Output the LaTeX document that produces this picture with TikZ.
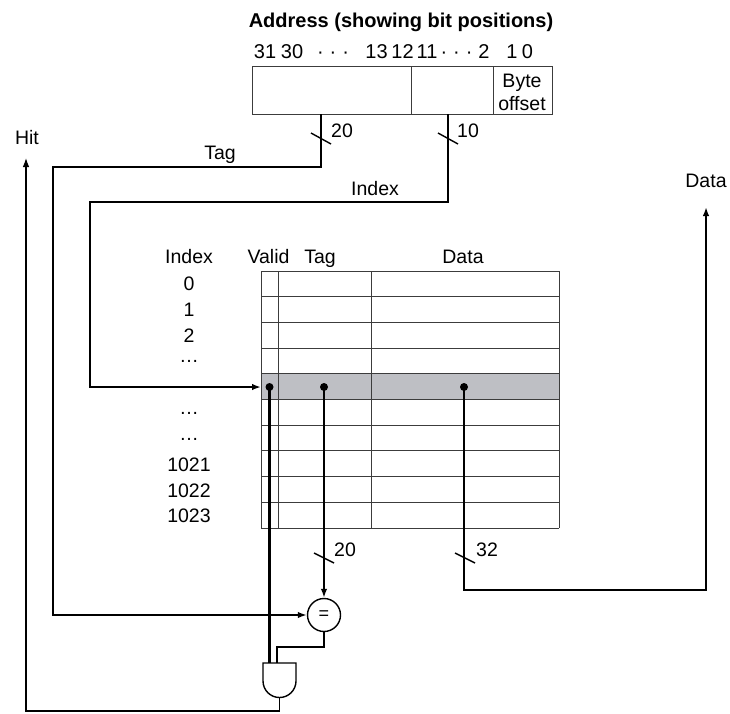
\documentclass[tikz,border=0pt]{standalone}
\usepackage{fontspec}
\setmainfont{Liberation Sans}
\usetikzlibrary{arrows.meta}
\definecolor{hilite}{RGB}{190,191,196}
\definecolor{gridc}{RGB}{60,60,60}
\tikzset{
  lbl/.style={font=\fontsize{19.5}{22}\selectfont, inner sep=0pt, anchor=base},
  bits/.style={font=\fontsize{20}{22}\selectfont, inner sep=0pt, anchor=base},
  ttl/.style={font=\fontsize{20}{22}\selectfont\bfseries, inner sep=0pt, anchor=base},
  wire/.style={line width=2.2pt, line join=miter},
  thinwire/.style={line width=1.1pt},
  grid/.style={line width=1pt, draw=gridc},
  tip/.style={-{Latex[length=9pt,width=6.5pt]}},
  dotnode/.style={circle, fill=black, inner sep=0pt, minimum size=8pt},
  slash/.style={line width=1.4pt},
  gate/.style={line width=1.4pt}
}
\newcommand{\bitdots}{·\hspace{6pt}·\hspace{6pt}·}
\begin{document}
\begin{tikzpicture}[x=1pt,y=-1pt]
\useasboundingbox (0,0) rectangle (730,713);

% ---------- address ----------
\node[ttl] (title) at (401,27) {Address (showing bit positions)};
\node[bits] (b31) at (265,58) {31};
\node[bits] (b30) at (292,58) {30};
\node[bits] (bd1) at (333,58) {\bitdots};
\node[bits] (b13) at (376.5,58) {13};
\node[bits] (b12) at (402.5,58) {12};
\node[bits] (b11) at (427,58) {11};
\node[bits] (bd2) at (456.5,58) {\bitdots};
\node[bits] (b2) at (484,58) {2};
\node[bits] (b1) at (512,58) {1};
\node[bits] (b0) at (527.5,58) {0};

\draw[grid] (252,66) rectangle (552,114);
\draw[grid] (411,66) -- (411,114);
\draw[grid] (493,66) -- (493,114);
\coordinate (addrTag) at (321,114);
\coordinate (addrIdx) at (448,114);
\node[lbl] (boff1) at (522,87) {Byte};
\node[lbl] (boff2) at (522,110) {offset};

% ---------- cache table ----------
\fill[hilite] (261,374) rectangle (559,399.5);
\foreach \i in {0,...,10} {
  \draw[grid] (261,{271+25.7*\i}) -- (559,{271+25.7*\i});
}
\draw[grid] (261,271) -- (261,528);
\draw[grid] (278,271) -- (278,528);
\draw[grid] (371,271) -- (371,528);
\draw[grid] (559,271) -- (559,528);

\node[lbl] (hIndex) at (189,263) {Index};
\node[lbl] (hValid) at (268.5,263) {Valid};
\node[lbl] (hTag) at (320,263) {Tag};
\node[lbl] (hData) at (463,263) {Data};

\node[lbl] (r0) at (189,290.5) {0};
\node[lbl] (r1) at (189,316.5) {1};
\node[lbl] (r2) at (189,342) {2};
\node[lbl] (r3) at (189,362) {…};
\node[lbl] (r5) at (189,414.5) {…};
\node[lbl] (r6) at (189,440) {…};
\node[lbl] (r7) at (189,471) {1021};
\node[lbl] (r8) at (189,497) {1022};
\node[lbl] (r9) at (189,522) {1023};

\coordinate (rowIn) at (261,387);
\node[dotnode] (vdot) at (269.5,387) {};
\node[dotnode] (tdot) at (324,387) {};
\node[dotnode] (ddot) at (464,387) {};

% ---------- comparator ----------
\node[circle, draw, line width=1.4pt, minimum size=33pt, inner sep=0pt, font=\fontsize{18}{20}\selectfont] (eq) at (324,615) {=};
\coordinate (gIn1) at (269.5,663);
\coordinate (gIn2) at (277,663);
\coordinate (gOut) at (279.5,697.5);

% ---------- wires ----------
\draw[wire, tip] (addrTag) -- (321,167) -- (53,167) -- (53,615) -- (eq.west);
\draw[wire, tip] (addrIdx) -- (448,202) -- (90,202) -- (90,387) -- (rowIn);
\draw[wire] (vdot.center) -- (gIn1);
\draw[wire, tip] (tdot.center) -- (eq.north);
\draw[wire] (eq.south) -- (324,647) -- (277,647) -- (gIn2);
\draw[wire, tip] (ddot.center) -- (464,590) -- (706,590) -- (706,207);
\draw[thinwire, tip] (gOut) -- (279.5,711) -- (26,711) -- (26,158);

% ---------- AND gate ----------
\draw[gate, fill=white] (263,663) -- (263,681) arc[start angle=180, end angle=0, radius=16.5] -- (296,663) -- cycle;

% slashes and widths
\draw[slash] (311,133) -- (331,144);
\node[lbl] (w20a) at (342,137) {20};
\draw[slash] (438,133) -- (458,144);
\node[lbl] (w10) at (468,137) {10};
\draw[slash] (314,553) -- (334,563);
\node[lbl] (w20b) at (345,556) {20};
\draw[slash] (455,553) -- (475,563);
\node[lbl] (w32) at (487,556) {32};

% wire labels
\node[lbl] (lTag) at (220,159) {Tag};
\node[lbl] (lIndex) at (375,195) {Index};
\node[lbl] (lHit) at (27,144) {Hit};
\node[lbl] (lData) at (706,187) {Data};
\end{tikzpicture}
\end{document}
